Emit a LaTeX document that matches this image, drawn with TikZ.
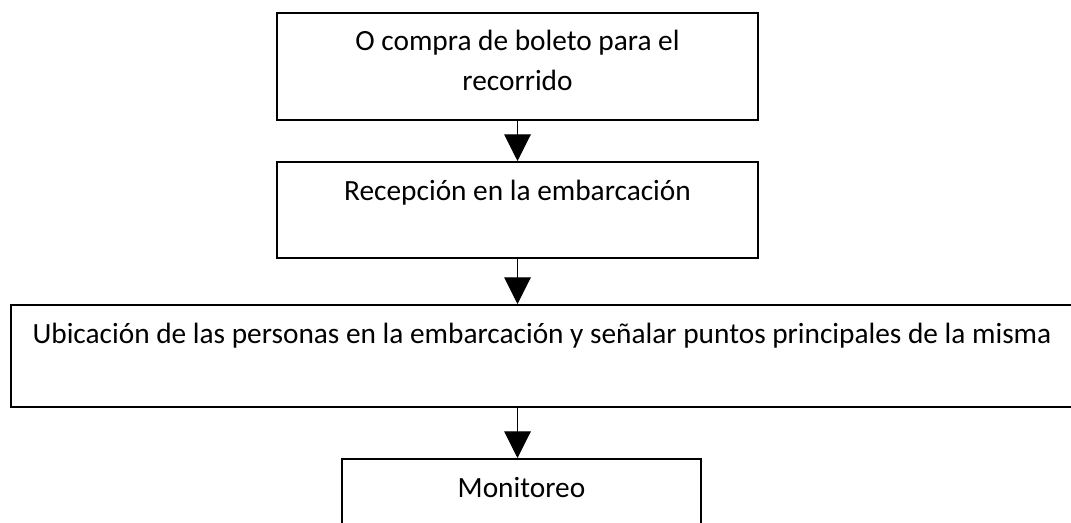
\documentclass[tikz,border=0pt]{standalone}
\usepackage{fontspec}
\setmainfont{Carlito}
\usetikzlibrary{arrows.meta, positioning}

\begin{document}
\begin{tikzpicture}[x=0.75pt, y=-0.75pt, every node/.style={font=\fontsize{22pt}{30pt}\selectfont},
  pbox/.style={draw, line width=1.5pt, anchor=north, align=center, inner xsep=0pt,
               inner ysep=0pt, text height=29.25pt},
  flecha/.style={-{Triangle[width=20pt, length=20pt]}, line width=0.8pt}]
  \useasboundingbox (0,0) rectangle (1071,523);

  % boxes, top to bottom
  \node[pbox, minimum width=360.75pt, text height=58.5pt, text depth=21.75pt] (compra) at (517.5,12)
    {O compra de boleto para el\\recorrido};
  \node[pbox, minimum width=360.75pt, text depth=42.75pt] (recepcion) at (517.5,161)
    {Recepción en la embarcación};
  \node[pbox, minimum width=796.5pt, text depth=47.25pt] (ubicacion) at (542,304)
    {Ubicación de las personas en la embarcación y señalar puntos principales de la misma};
  \node[pbox, minimum width=269.25pt, text depth=33pt] (monitoreo) at (521.5,458)
    {Monitoreo};

  % arrows
  \draw[flecha] (compra) -- (recepcion);
  \draw[flecha] (recepcion) -- (ubicacion.north -| recepcion.south);
  \draw[flecha] (ubicacion.south -| recepcion.south) -- (monitoreo.north -| recepcion.south);
\end{tikzpicture}
\end{document}
